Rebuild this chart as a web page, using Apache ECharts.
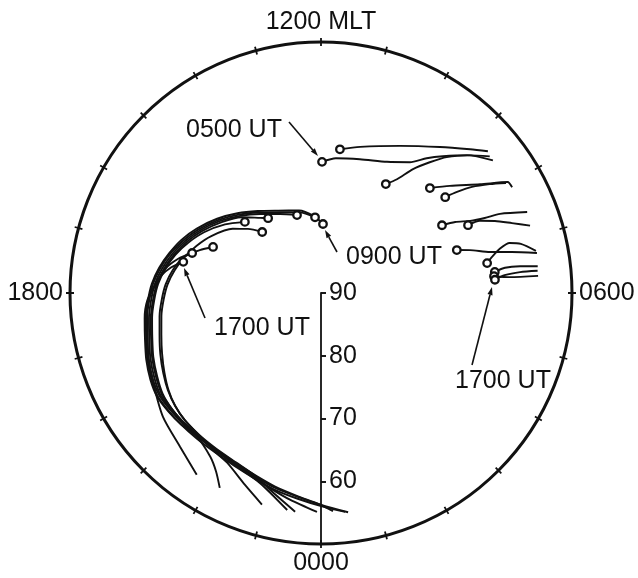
<!DOCTYPE html>
<html><head><meta charset="utf-8">
<script src="https://cdn.jsdelivr.net/npm/echarts@6/dist/echarts.min.js"></script>
<style>html,body{margin:0;padding:0;background:#fff}#c{width:638px;height:578px}</style>
</head><body><div id="c"></div>
<script>
// MLT hour labels on the outer circle
const mltLabels = {0:'0000', 6:'0600', 12:'1200 MLT', 18:'1800'};
// latitude labels on the midnight radius
const latLabels = [90, 80, 70, 60];

// Dawn-side (right) tracks: [latitude, MLT], first point = marked start circle
const dawn01 = [[69.1,11.97],[68.4,11.58],[67.8,10.92],[66.6,10.22],[64.8,9.72],[62.7,9.46],[60.8,9.22],[58.0,8.89],[55.4,8.51]];
const dawn02 = [[66.9,11.5],[65.9,11.0],[63.4,10.12],[60.0,9.39],[57.0,8.93],[55.1,8.69]];
const dawn03 = [[69.8,9.95],[68.2,9.75],[65.4,9.56],[62.9,9.35],[60.5,9.15],[57.7,8.85],[55.4,8.60]];
const dawn04 = [[65.9,8.93],[63.3,8.65],[59.3,8.29],[55.4,8.05],[55.2,7.93]];
const dawn05 = [[65.0,8.51],[63.0,8.44],[60.6,8.34],[58.0,8.19],[55.7,8.05]];
const dawn06 = [[67.9,7.95],[65.8,7.86],[63.6,7.72],[61.3,7.64],[58.8,7.59],[54.7,7.43]];
const dawn07 = [[64.2,7.65],[62.2,7.63],[60.0,7.50],[57.6,7.34],[55.0,7.19]];
const dawn08 = [[67.3,7.17],[65.3,7.07],[62.3,6.91],[58.9,6.81],[55.0,6.70]];
const dawn09 = [[63.1,6.68],[62.2,6.79],[60.6,6.93],[58.9,6.99],[57.2,6.92],[55.1,6.74]];
const dawn10 = [[62.1,6.46],[60.4,6.52],[58.0,6.51],[55.2,6.47]];
const dawn11 = [[62.3,6.37],[59.8,6.32],[55.3,6.30]];
const dawn12 = [[62.2,6.29],[60.6,6.37],[58.1,6.40],[55.3,6.39]];

// Dusk-side (left) tracks, 0900 UT .. 1700 UT
const dusk0900 = [[79.0,11.89],[77.7,12.35],[76.4,12.99],[75.2,13.83],[73.5,14.51],[71.6,15.09],[69.65,15.63],[67.7,16.17],[66.2,16.61],[65.0,17.02],[63.9,17.41],[63.0,17.79],[62.4,18.16],[61.8,18.55],[61.2,18.98],[60.4,19.39],[59.7,19.80],[59.2,20.16],[59.3,20.52],[59.4,20.87],[59.5,21.30],[59.5,21.73],[59.2,22.22],[58.6,22.69],[57.8,23.11],[57.0,23.57],[56.0,24.02],[54.9,24.42]];
const dusk1000 = [[77.9,12.30],[76.7,12.99],[75.5,13.83],[73.8,14.51],[71.9,15.09],[69.95,15.63],[68.0,16.17],[66.5,16.61],[65.2,17.02],[64.1,17.41],[63.2,17.79],[62.6,18.16],[62.0,18.55],[61.4,18.98],[60.6,19.39],[59.9,19.80],[59.5,20.16],[59.6,20.52],[59.7,20.87],[59.8,21.30],[59.8,21.73],[59.5,22.22],[58.9,22.69],[58.1,23.11],[57.3,23.57],[56.2,24.02],[54.8,24.47]];
const dusk1100 = [[77.0,13.14],[75.8,13.83],[74.1,14.51],[72.2,15.09],[70.25,15.63],[68.3,16.17],[66.8,16.61],[65.5,17.02],[64.4,17.41],[63.5,17.79],[62.9,18.16],[62.3,18.55],[61.7,18.98],[60.9,19.39],[60.2,19.80],[59.7,20.16],[59.8,20.52],[59.9,20.87],[60.0,21.30],[60.0,21.73],[59.7,22.22],[59.1,22.69],[58.3,23.11],[57.4,23.57],[56.4,23.95],[55.2,24.21]];
const dusk1200 = [[75.4,14.35],[74.6,14.6],[72.5,15.09],[70.55,15.63],[68.6,16.17],[67.1,16.61],[65.8,17.02],[64.7,17.41],[63.8,17.79],[63.2,18.16],[62.6,18.55],[62.0,18.98],[61.2,19.39],[60.5,19.80],[59.95,20.16],[59.9,20.52],[59.9,20.87],[60.0,21.30],[59.9,21.73],[59.5,22.22],[58.7,22.69],[57.8,23.05],[56.7,23.43],[55.1,23.93]];
const dusk1300 = [[76.5,14.93],[74.5,15.25],[72.6,15.6],[70.3,16.17],[68.8,16.61],[67.5,17.02],[66.4,17.41],[65.5,17.79],[64.9,18.16],[64.3,18.55],[63.7,18.98],[62.9,19.39],[62.0,19.80],[61.2,20.16],[60.6,20.52],[60.3,20.87],[60.2,21.30],[60.1,21.73],[59.8,22.22],[59.0,22.69],[57.6,23.03],[54.9,23.55]];
const dusk1400 = [[73.4,15.13],[71.2,15.63],[69.0,16.17],[67.4,16.61],[66.0,17.02],[64.9,17.41],[64.0,17.79],[63.4,18.16],[62.8,18.55],[62.2,18.98],[61.4,19.39],[60.7,19.80],[60.1,20.16],[59.9,20.52],[59.9,20.87],[59.9,21.30],[59.8,21.73],[59.4,22.22],[58.2,22.81],[55.0,23.41]];
const dusk1500 = [[71.3,16.46],[69.5,16.7],[67.4,17.02],[66.1,17.41],[65.2,17.79],[64.6,18.16],[64.0,18.55],[63.4,18.98],[62.6,19.39],[61.8,19.80],[61.1,20.16],[60.6,20.52],[60.3,20.87],[60.1,21.30],[59.6,21.73],[59.1,22.07],[57.1,22.56],[55.0,22.96]];
const dusk1600 = [[68.5,16.85],[66.6,17.1],[64.9,17.41],[63.7,17.79],[62.3,18.16],[61.6,18.55],[61.0,18.98],[60.2,19.39],[59.5,19.80],[59.1,20.16],[59.2,20.52],[59.4,20.87],[59.7,21.30],[58.5,21.73],[57.0,21.97],[55.0,22.17]];
const dusk1700 = [[67.5,17.15],[65.8,17.35],[64.3,17.6],[63.2,17.9],[62.5,18.16],[61.9,18.55],[61.4,18.98],[60.6,19.39],[59.65,19.88],[58.0,20.54],[56.75,21.17],[54.9,21.71]];

const tracks = [dawn01,dawn02,dawn03,dawn04,dawn05,dawn06,dawn07,dawn08,dawn09,dawn10,dawn11,dawn12,
  dusk0900,dusk1000,dusk1100,dusk1200,dusk1300,dusk1400,dusk1500,dusk1600,dusk1700];

const FONT = 'Liberation Sans';
const INK = '#111';
const CX = 321, CY = 293, R = 251;

const chart = echarts.init(document.getElementById('c'), null, {renderer:'canvas'});

const series = tracks.map(t => ({
  type:'line', coordinateSystem:'polar', polarIndex:0, data:t,
  showSymbol:false, symbol:'none', smooth:0.25, clip:false, silent:true,
  lineStyle:{color:INK, width:1.9}, z:3
}));
series.push({
  type:'scatter', coordinateSystem:'polar', polarIndex:0,
  data: tracks.map(t => t[0]), symbol:'circle', symbolSize:7.5, silent:true,
  itemStyle:{color:'#fff', borderColor:INK, borderWidth:2.3, opacity:1}, z:5
});

function arrow(x1,y1,x2,y2){
  const a = Math.atan2(y2-y1, x2-x1), L = 8, W = 2.6;
  const bx = x2 - L*Math.cos(a), by = y2 - L*Math.sin(a);
  return [
    {type:'line', shape:{x1:x1,y1:y1,x2:bx,y2:by}, style:{stroke:INK, lineWidth:1.6}, z:10},
    {type:'polygon', shape:{points:[[x2,y2],[bx - W*Math.sin(a), by + W*Math.cos(a)],[bx + W*Math.sin(a), by - W*Math.cos(a)]]}, style:{fill:INK}, z:10}
  ];
}
function label(txt, x, y){
  return {type:'text', x:x, y:y, style:{text:txt, fill:INK, font:'25px "'+FONT+'"', textAlign:'center', textVerticalAlign:'middle'}, z:10};
}

const graphic = [
  label('0500 UT', 234, 130), ...arrow(289,122,318,156),
  label('0900 UT', 394, 257), ...arrow(337,252,325,230),
  label('1700 UT', 262, 328), ...arrow(205,318,184,268),
  label('1700 UT', 503, 381), ...arrow(472,365,492,287)
];

const angleBase = {type:'value', min:0, max:24, interval:1, startAngle:270, clockwise:false, splitLine:{show:false}};
const radiusBase = {type:'value', min:50, max:90, interval:10, inverse:true, splitLine:{show:false}};
const hiddenAxis = {axisLine:{show:false}, axisTick:{show:false}, axisLabel:{show:false}};

chart.setOption({
  animation:false,
  backgroundColor:'#fff',
  polar:[{center:[CX,CY], radius:R},{center:[CX,CY], radius:R+4},{center:[CX,CY], radius:R}],
  angleAxis:[
    Object.assign({}, angleBase, {polarIndex:0,
      axisLine:{lineStyle:{color:INK, width:3}},
      axisTick:{show:false},
      axisLabel:{formatter:v => mltLabels[v] || '', fontFamily:FONT, fontSize:25, color:INK, margin:7}}),
    Object.assign({}, angleBase, {polarIndex:1,
      axisLine:{show:false},
      axisTick:{inside:true, length:8, lineStyle:{color:INK, width:1.8}},
      axisLabel:{show:false}}),
    Object.assign({}, angleBase, hiddenAxis, {polarIndex:2})
  ],
  radiusAxis:[
    Object.assign({}, radiusBase, {polarIndex:0,
      axisLine:{lineStyle:{color:INK, width:1.8}},
      axisTick:{length:5, lineStyle:{color:INK, width:1.6}},
      axisLabel:{formatter:v => latLabels.indexOf(v) >= 0 ? String(v) : '', fontFamily:FONT, fontSize:25, color:INK, margin:8}}),
    Object.assign({}, radiusBase, hiddenAxis, {polarIndex:1}),
    Object.assign({}, radiusBase, {polarIndex:2,
      axisLine:{show:false},
      axisTick:{inside:true, length:5, lineStyle:{color:INK, width:1.6}},
      axisLabel:{show:false}})
  ],
  series: series,
  graphic: graphic
});
</script>
</body></html>
